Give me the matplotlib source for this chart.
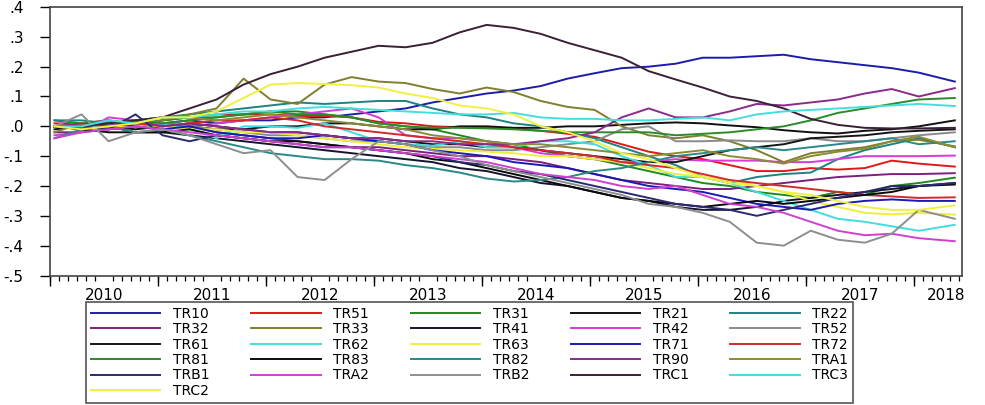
import matplotlib.pyplot as plt
from matplotlib.ticker import FuncFormatter

plt.rcParams['font.family'] = ['DejaVu Sans']

# quarterly sample points, in months since Jan 2010
months = list(range(0, 97, 3)) + [100]

TR10 = [.00, .01, .00, .01, .01, .02, .01, .02, .02, .03, .03, .04, .05, .06, .08, .095, .11,
        .12, .135, .16, .178, .195, .20, .21, .23, .23, .235, .24, .225, .215, .205, .195, .18, .15]
TR51 = [.01, .01, .02, .00, .02, .03, .04, .04, .04, .035, .035, .03, .015, .01, .00, -.003, -.005,
        -.007, -.015, -.025, -.035, -.06, -.085, -.10, -.11, -.13, -.15, -.15, -.14, -.145, -.14, -.115, -.125, -.135]
TR31 = [.02, .01, .02, .01, .02, .03, .03, .04, .05, .05, .04, .03, .01, .00, -.01, -.03, -.05,
        -.06, -.08, -.10, -.11, -.13, -.15, -.17, -.19, -.20, -.22, -.23, -.24, -.22, -.23, -.20, -.19, -.172]
TR21 = [-.01, .00, -.01, .00, .01, .00, -.01, -.01, .00, .00, .01, .01, .00, -.01, -.01, .00, .00,
        -.005, -.005, .00, .00, .005, .01, .013, .01, .003, -.003, -.013, -.02, -.024, -.015, -.01, .00, .02]
TR22 = [.02, .02, .01, .02, .03, .04, .05, .06, .07, .08, .075, .08, .085, .085, .06, .04, .03,
        .01, .00, -.02, -.04, -.07, -.10, -.13, -.17, -.19, -.17, -.16, -.155, -.11, -.08, -.06, -.04, -.07]
TR32 = [-.02, -.02, -.01, .00, .01, .00, -.02, -.03, -.04, -.05, -.06, -.07, -.07, -.08, -.09, -.10, -.10,
        -.11, -.12, -.14, -.16, -.18, -.19, -.20, -.21, -.21, -.20, -.19, -.18, -.17, -.165, -.16, -.16, -.157]
TR33 = [-.02, .01, .00, .01, .02, .04, .06, .16, .09, .075, .14, .165, .15, .145, .125, .11, .13,
        .115, .085, .065, .055, .00, -.03, -.04, -.03, -.05, -.08, -.12, -.09, -.08, -.07, -.05, -.045, -.067]
TR41 = [.00, -.01, .00, -.02, -.02, -.03, -.04, -.05, -.06, -.07, -.08, -.09, -.10, -.11, -.12, -.14, -.15,
        -.17, -.19, -.20, -.22, -.24, -.25, -.27, -.28, -.28, -.27, -.25, -.24, -.23, -.22, -.21, -.20, -.19]
TR42 = [-.03, -.02, .03, .02, .01, .00, .01, .02, .03, .04, .05, .06, .03, -.03, -.04, -.04, -.05,
        -.07, -.09, -.10, -.11, -.12, -.12, -.11, -.115, -.115, -.115, -.12, -.12, -.11, -.10, -.10, -.10, -.098]
TR52 = [.00, .00, .01, .00, .01, .00, -.01, -.02, -.03, -.03, -.04, -.05, -.05, -.06, -.07, -.07, -.08,
        -.08, -.07, -.06, -.05, -.01, .00, -.05, -.05, -.047, -.05, -.05, -.04, -.05, -.05, -.04, -.03, -.02]
TR61 = [.00, .01, .00, -.01, .00, .01, .00, -.01, -.02, -.02, -.03, -.04, -.04, -.05, -.06, -.06, -.07,
        -.07, -.08, -.09, -.10, -.11, -.12, -.12, -.10, -.08, -.07, -.06, -.04, -.035, -.03, -.02, -.015, -.01]
TR62 = [.00, -.01, .01, .00, .01, -.01, -.04, .00, .00, -.005, .01, -.02, -.05, -.06, -.065, -.05, -.07,
        -.07, -.05, -.05, -.06, -.10, -.13, -.17, -.17, -.19, -.22, -.25, -.28, -.31, -.32, -.335, -.35, -.33]
TR63 = [.00, .01, .00, .00, .00, -.01, -.01, -.02, -.02, -.03, -.04, -.05, -.06, -.07, -.075, -.08, -.085,
        -.09, -.10, -.10, -.11, -.12, -.14, -.16, -.17, -.18, -.20, -.22, -.25, -.27, -.29, -.295, -.29, -.296]
TR71 = [.00, .00, .01, .00, -.01, .00, -.02, -.03, -.04, -.04, -.03, -.04, -.05, -.06, -.08, -.09, -.10,
        -.12, -.13, -.14, -.16, -.18, -.20, -.21, -.22, -.24, -.26, -.27, -.28, -.26, -.25, -.245, -.25, -.25]
TR72 = [.00, -.01, .00, .01, .00, .01, .02, .02, .03, .02, .00, -.01, -.02, -.03, -.04, -.05, -.06,
        -.07, -.08, -.09, -.10, -.12, -.13, -.14, -.16, -.18, -.19, -.20, -.21, -.22, -.23, -.235, -.24, -.238]
TR81 = [.00, .00, .01, .02, .01, .02, .03, .04, .05, .04, .04, .03, .01, .00, -.005, -.005, -.007,
        -.01, -.015, -.02, -.02, -.02, -.02, -.03, -.025, -.02, -.01, .00, .02, .045, .06, .075, .09, .095]
TR83 = [.00, -.01, -.02, -.02, -.02, -.01, -.03, -.04, -.05, -.05, -.06, -.07, -.08, -.09, -.11, -.12, -.14,
        -.16, -.18, -.20, -.22, -.24, -.25, -.26, -.27, -.26, -.25, -.26, -.25, -.24, -.23, -.22, -.20, -.195]
TR82 = [-.04, -.01, .00, -.02, -.01, -.03, -.05, -.07, -.09, -.10, -.11, -.11, -.115, -.13, -.14, -.155, -.175,
        -.185, -.18, -.17, -.15, -.14, -.12, -.10, -.09, -.08, -.07, -.08, -.07, -.06, -.05, -.04, -.06, -.05]
TR90 = [.00, .01, .00, .02, .00, .01, .00, -.01, -.02, -.02, -.03, -.04, -.04, -.05, -.05, -.06, -.06,
        -.06, -.05, -.04, -.02, .03, .06, .03, .03, .05, .075, .07, .08, .09, .11, .125, .10, .128]
TRA1 = [.00, .00, .01, .02, .03, .03, .02, .03, .04, .03, .02, .01, .00, -.01, -.03, -.04, -.05,
        -.06, -.06, -.07, -.08, -.09, -.10, -.09, -.08, -.10, -.11, -.125, -.10, -.085, -.075, -.05, -.035, -.07]
TRB1 = [.00, .00, -.01, .04, -.03, -.05, -.03, -.04, -.05, -.06, -.07, -.07, -.08, -.09, -.10, -.12, -.13,
        -.15, -.16, -.18, -.20, -.22, -.24, -.26, -.27, -.28, -.30, -.28, -.26, -.24, -.22, -.20, -.20, -.19]
TRA2 = [-.04, -.02, -.01, .00, -.01, -.02, -.03, -.04, -.05, -.06, -.07, -.07, -.08, -.09, -.10, -.11, -.12,
        -.14, -.16, -.17, -.18, -.20, -.21, -.20, -.23, -.26, -.27, -.29, -.32, -.35, -.365, -.36, -.375, -.385]
TRB2 = [.00, .04, -.05, -.02, -.01, -.03, -.06, -.09, -.08, -.17, -.18, -.11, -.05, -.06, -.08, -.10, -.13,
        -.15, -.17, -.19, -.21, -.23, -.26, -.27, -.29, -.32, -.39, -.40, -.35, -.38, -.39, -.36, -.28, -.31]
TRC1 = [.00, .00, .01, .02, .03, .06, .09, .14, .175, .20, .23, .25, .27, .265, .28, .315, .34,
        .33, .31, .28, .255, .23, .185, .157, .13, .10, .085, .06, .025, .005, -.005, -.007, -.007, -.005]
TRC3 = [.00, .00, .02, .01, .03, .03, .04, .05, .05, .06, .065, .06, .055, .05, .045, .04, .04,
        .045, .03, .025, .025, .02, .02, .025, .03, .02, .04, .05, .055, .06, .065, .07, .075, .068]
TRC2 = [.00, -.01, .00, .01, .03, .03, .05, .095, .14, .145, .142, .138, .13, .11, .095, .07, .06,
        .04, .00, -.02, -.05, -.09, -.11, -.14, -.17, -.19, -.20, -.22, -.23, -.25, -.27, -.28, -.28, -.265]

years = [2010, 2011, 2012, 2013, 2014, 2015, 2016, 2017, 2018]

series = [
    ("TR10", TR10, "#1c1cab"), ("TR51", TR51, "#e01818"), ("TR31", TR31, "#1f8a1f"),
    ("TR21", TR21, "#111111"), ("TR22", TR22, "#1d8282"), ("TR32", TR32, "#7d1f7d"),
    ("TR33", TR33, "#7f7f2e"), ("TR41", TR41, "#14142e"), ("TR42", TR42, "#d83ad8"),
    ("TR52", TR52, "#8a8a8a"), ("TR61", TR61, "#151515"), ("TR62", TR62, "#3fdede"),
    ("TR63", TR63, "#eeee3c"), ("TR71", TR71, "#1a1ab4"), ("TR72", TR72, "#d22a2a"),
    ("TR81", TR81, "#2b8b2b"), ("TR83", TR83, "#0a0a0a"), ("TR82", TR82, "#2a8888"),
    ("TR90", TR90, "#8a2a8a"), ("TRA1", TRA1, "#8b8b33"), ("TRB1", TRB1, "#2a2a72"),
    ("TRA2", TRA2, "#d040d0"), ("TRB2", TRB2, "#8e8e8e"), ("TRC1", TRC1, "#3a2036"),
    ("TRC3", TRC3, "#44dede"), ("TRC2", TRC2, "#f0f040"),
]

fig = plt.figure(figsize=(9.85, 4.05), dpi=100)
ax = fig.add_axes([50 / 985, 1 - 275.5 / 405, 912 / 985, 268.5 / 405])

handles = []
for name, vals, col in series:
    line, = ax.plot(months, vals, color=col, lw=1.4, label=name)
    handles.append(line)

ax.set_xlim(-0.5, 100.8)
ax.set_ylim(-0.5, 0.4)

# y axis: .4 ... -.5 style labels
ax.set_yticks([i / 10 for i in range(-5, 5)])
ax.yaxis.set_major_formatter(FuncFormatter(
    lambda v, p: ("-" if v < -1e-9 else "") + ("%.1f" % abs(v))[1:]))
ax.tick_params(axis='y', length=7, width=1, pad=12, labelsize=11, direction='out')

# x axis: year names centred in each year, month ticks, longer year ticks
centers = [5.5 + 12 * i for i in range(8)] + [99]
ax.set_xticks(centers)
ax.set_xticklabels([str(y) for y in years])
ax.set_xticks([m - 0.5 for m in range(0, 102)], minor=True)
ax.tick_params(axis='x', which='major', length=0, pad=9, labelsize=11)
ax.tick_params(axis='x', which='minor', length=3.5, width=0.9, direction='out')
sec = ax.secondary_xaxis('bottom')
sec.set_xticks([12 * i - 0.5 for i in range(9)])
sec.set_xticklabels([])
sec.tick_params(axis='x', length=7, width=1, direction='out')

for sp in ax.spines.values():
    sp.set_color('#444444')
    sp.set_linewidth(1.2)
sec.spines['bottom'].set_visible(False)

# legend is filled column by column, so reorder to read row by row
ncol = 5
order = []
for c in range(ncol):
    r = 0
    while r * ncol + c < len(handles):
        order.append(r * ncol + c)
        r += 1
leg = fig.legend([handles[i] for i in order], [series[i][0] for i in order],
                 loc='upper left', bbox_to_anchor=(86 / 985, 1 - 302 / 405),
                 ncol=ncol, fontsize=10, handlelength=5, handletextpad=0.9,
                 columnspacing=3.0, labelspacing=0.1, borderpad=0.35, borderaxespad=0,
                 frameon=True, fancybox=False, edgecolor='#555555', framealpha=1)
leg.get_frame().set_linewidth(1.2)

fig.savefig('out.png', dpi=100)
